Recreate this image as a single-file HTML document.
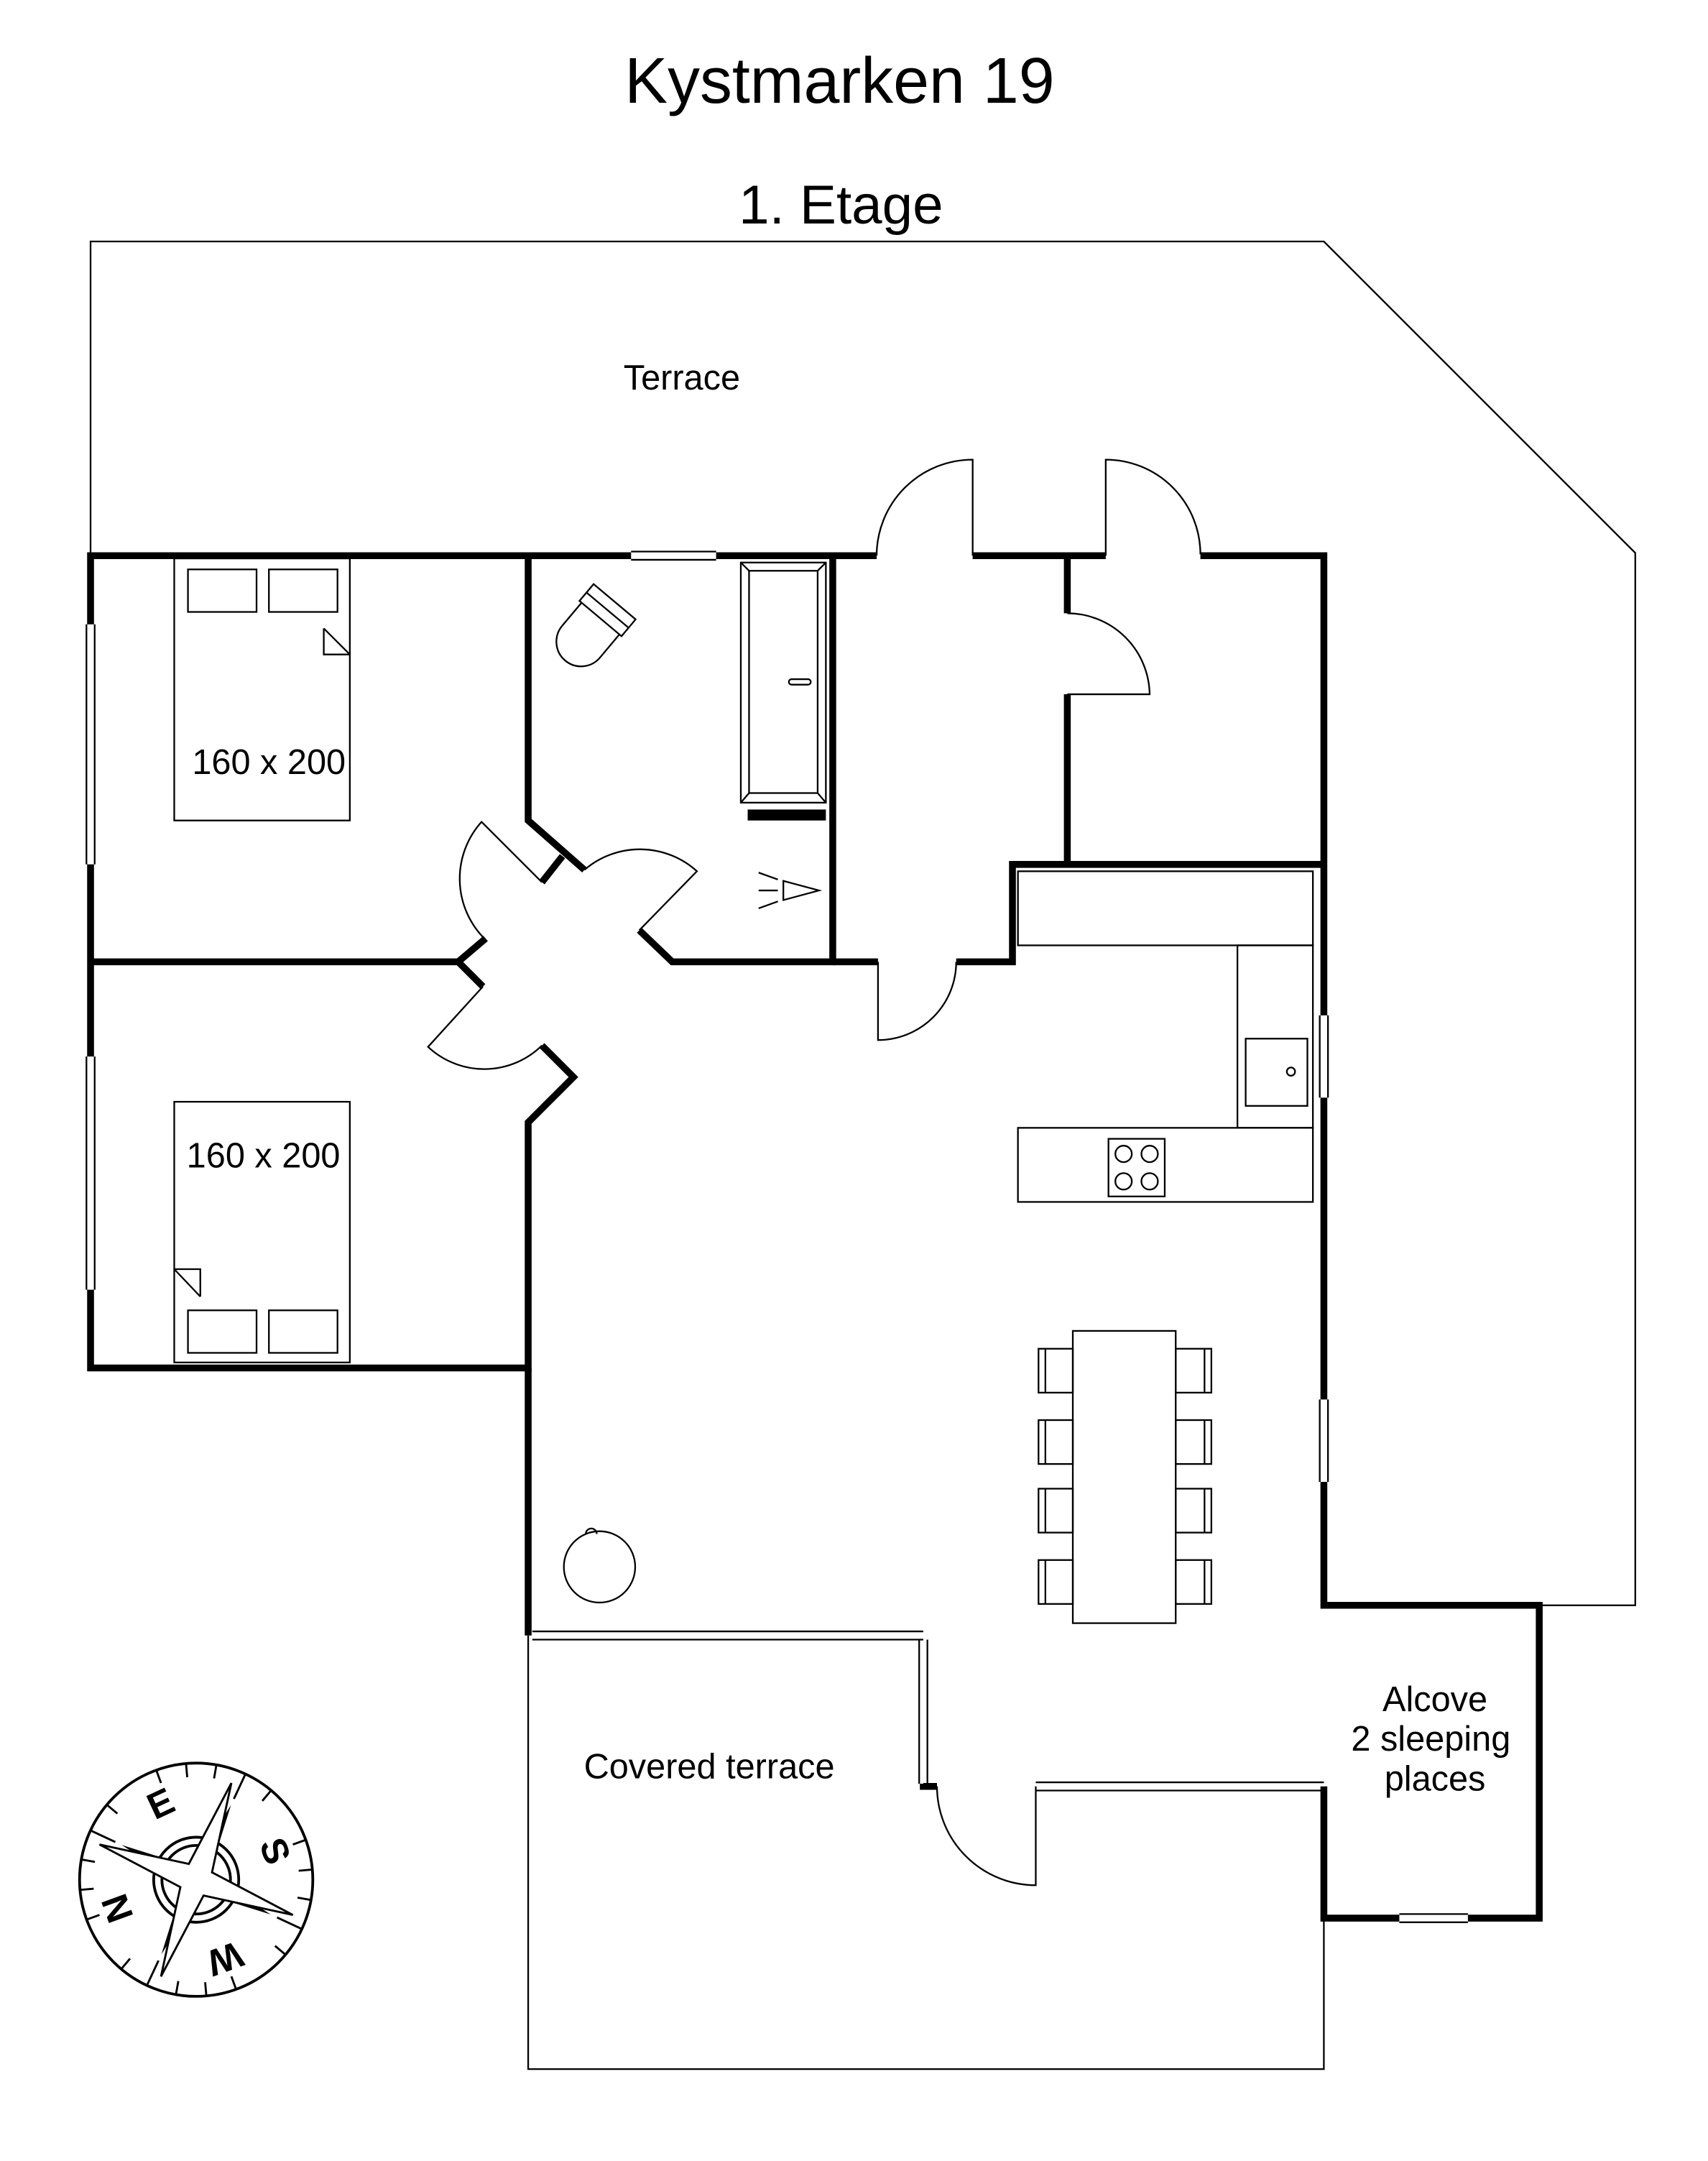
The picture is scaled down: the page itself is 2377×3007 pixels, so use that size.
<!DOCTYPE html>
<html><head><meta charset="utf-8"><style>html,body{margin:0;padding:0;background:#fff}svg{display:block}</style></head><body>
<svg xmlns="http://www.w3.org/2000/svg" width="2377" height="3007" viewBox="0 0 1245 1575">
<rect width="1245" height="1575" fill="#fff"/>
<g font-family="Liberation Sans, sans-serif" fill="#000" text-anchor="middle">
<text x="612" y="75" font-size="47">Kystmarken 19</text>
<text x="613" y="163" font-size="40">1. Etage</text>
<text x="497" y="284" font-size="25.5">Terrace</text>
<text x="196" y="564" font-size="25.5">160 x 200</text>
<text x="192" y="851" font-size="25.5">160 x 200</text>
<text x="517" y="1296" font-size="25.5">Covered terrace</text>
<text x="1046" y="1247" font-size="25.5">Alcove</text>
<text x="1043" y="1276" font-size="25.5">2 sleeping</text>
<text x="1046" y="1305" font-size="25.5">places</text>
</g>
<g fill="none" stroke="#000" stroke-width="1.2">
<polyline points="66,405 66,176 965,176 1192,403 1192,1170 1122,1170"/>
<polyline points="385,1192 385,1508 965,1508 965,1398"/>
<path d="M63,455V630M69,455V630M63,770V940M69,770V940M962,740V800M968,740V800M962,1020V1080M968,1020V1080M460,402H522M460,408H522M1020,1395H1070M1020,1401H1070M388,1189H673M388,1195H673M670,1195V1300M676,1195V1300M755,1299H965M755,1305H965"/>
<rect x="127" y="407" width="128" height="191"/>
<rect x="137" y="415" width="50" height="31"/><rect x="196" y="415" width="50" height="31"/>
<path d="M236,458V477H255M236,458L255,477"/>
<rect x="127" y="803" width="128" height="190"/>
<rect x="137" y="955" width="50" height="31"/><rect x="196" y="955" width="50" height="31"/>
<path d="M146,945V925H127M146,945L127,925"/>
<rect x="540" y="410" width="62" height="175"/>
<rect x="546" y="416" width="50" height="162"/>
<path d="M540,410L546,416M602,410L596,416M540,585L546,578M602,585L596,578"/>
<rect x="575" y="495" width="16" height="4" rx="2"/>
<g transform="rotate(40 430 460)"><rect x="410" y="432" width="40" height="16"/><path d="M410,440H450"/><path d="M412,448V470A18,18 0 0 0 448,470V448"/></g>
<path d="M571,642V656L597,649Z M553,636L567,641M553,649H567M553,662L567,657"/>
<rect x="742" y="635" width="215" height="54"/>
<rect x="902" y="689" width="55" height="133"/>
<rect x="908" y="757" width="45" height="49"/><circle cx="941" cy="781" r="3"/>
<rect x="742" y="822" width="215" height="54"/>
<rect x="808" y="830" width="41" height="42"/>
<circle cx="819" cy="841" r="6"/><circle cx="838" cy="841" r="6"/><circle cx="819" cy="861" r="6"/><circle cx="838" cy="861" r="6"/>
<rect x="782" y="970" width="75" height="213"/>
<g id="ch"><rect x="757" y="983" width="25" height="32"/><path d="M762,983V1015"/></g>
<use href="#ch" y="52"/><use href="#ch" y="102"/><use href="#ch" y="154"/>
<g id="cr"><rect x="857" y="983" width="26" height="32"/><path d="M878,983V1015"/></g>
<use href="#cr" y="52"/><use href="#cr" y="102"/><use href="#cr" y="154"/>
<circle cx="437" cy="1142" r="26"/><path d="M427,1118a4,4 0 0 1 8,0"/>
<path d="M709,405V335A70,70 0 0 0 639,405"/>
<path d="M806,405V335A69,69 0 0 1 875,404"/>
<path d="M778,447A60,60 0 0 1 838,506H778"/>
<path d="M640,701V758A57,57 0 0 0 697,701"/>
<path d="M755,1302V1374A72,72 0 0 1 683,1302"/>
<path d="M395,643L351,599A62,62 0 0 0 354,685"/>
<path d="M426,634A62,62 0 0 1 508,635L466,678"/>
<path d="M352,719L312,763A60,60 0 0 0 395,762"/>
</g>
<g fill="none" stroke="#000" stroke-width="5" stroke-linejoin="miter" stroke-linecap="butt">
<path d="M639,405H522M460,405H66V455M66,630V770M66,940V997H385V818L418,785L395,762"/>
<path d="M709,405H806M875,405H965V740M965,800V1020M965,1080V1170H1122V1398H1070M1020,1398H965V1302"/>
<path d="M66,701H334L354,684M334,701L352,719"/>
<path d="M385,405V598L426,634"/>
<path d="M410,624L395,643"/>
<path d="M466,678L490,701H607V405"/>
<path d="M607,701H640M697,701H738V630H965"/>
<path d="M778,405V447M778,506V630"/>
<path d="M385,997V1192"/>
<path d="M673,1300V1302H683"/>
</g>
<rect x="545" y="590" width="57" height="8" fill="#000"/>
<g transform="translate(143,1370)">
<circle r="85" fill="none" stroke="#000" stroke-width="2"/>
<circle r="31" fill="none" stroke="#000" stroke-width="2"/>
<circle r="25" fill="none" stroke="#000" stroke-width="2"/>
<g stroke="#000" stroke-width="1.5">
<path d="M0,-85V-75M0,85V75M85,0H75M-85,0H-75" transform="rotate(-20)"/>
<path d="M0,-85V-75M0,85V75M85,0H75M-85,0H-75" transform="rotate(-5)"/>
<path d="M0,-85V-75M0,85V75M85,0H75M-85,0H-75" transform="rotate(10)"/>
<path d="M0,-85V-75M0,85V75M85,0H75M-85,0H-75" transform="rotate(40)"/>
<path d="M0,-85V-65M0,85V65M85,0H65M-85,0H-65" transform="rotate(25)"/>
</g>
<g transform="rotate(-20)">
<path d="M0,-60L8,0L0,60L-8,0Z" fill="#000" transform="rotate(45)"/>
<path d="M0,-60L8,0L0,60L-8,0Z" fill="#000" transform="rotate(-45)"/>
<path d="M0,-75L9,-9L75,0L9,9L0,75L-9,9L-75,0L-9,-9Z" fill="#fff" stroke="#000" stroke-width="1.5" transform="rotate(40)"/>
</g>
<g font-family="Liberation Sans, sans-serif" font-weight="bold" font-size="27" text-anchor="middle">
<text transform="rotate(-25) translate(0,-62)" y="10">E</text>
<text transform="rotate(70) translate(0,-62)" y="10">S</text>
<text transform="rotate(160) translate(0,-62)" y="10">W</text>
<text transform="rotate(250) translate(0,-62)" y="10">N</text>
</g>
</g>
</svg>
</body></html>
